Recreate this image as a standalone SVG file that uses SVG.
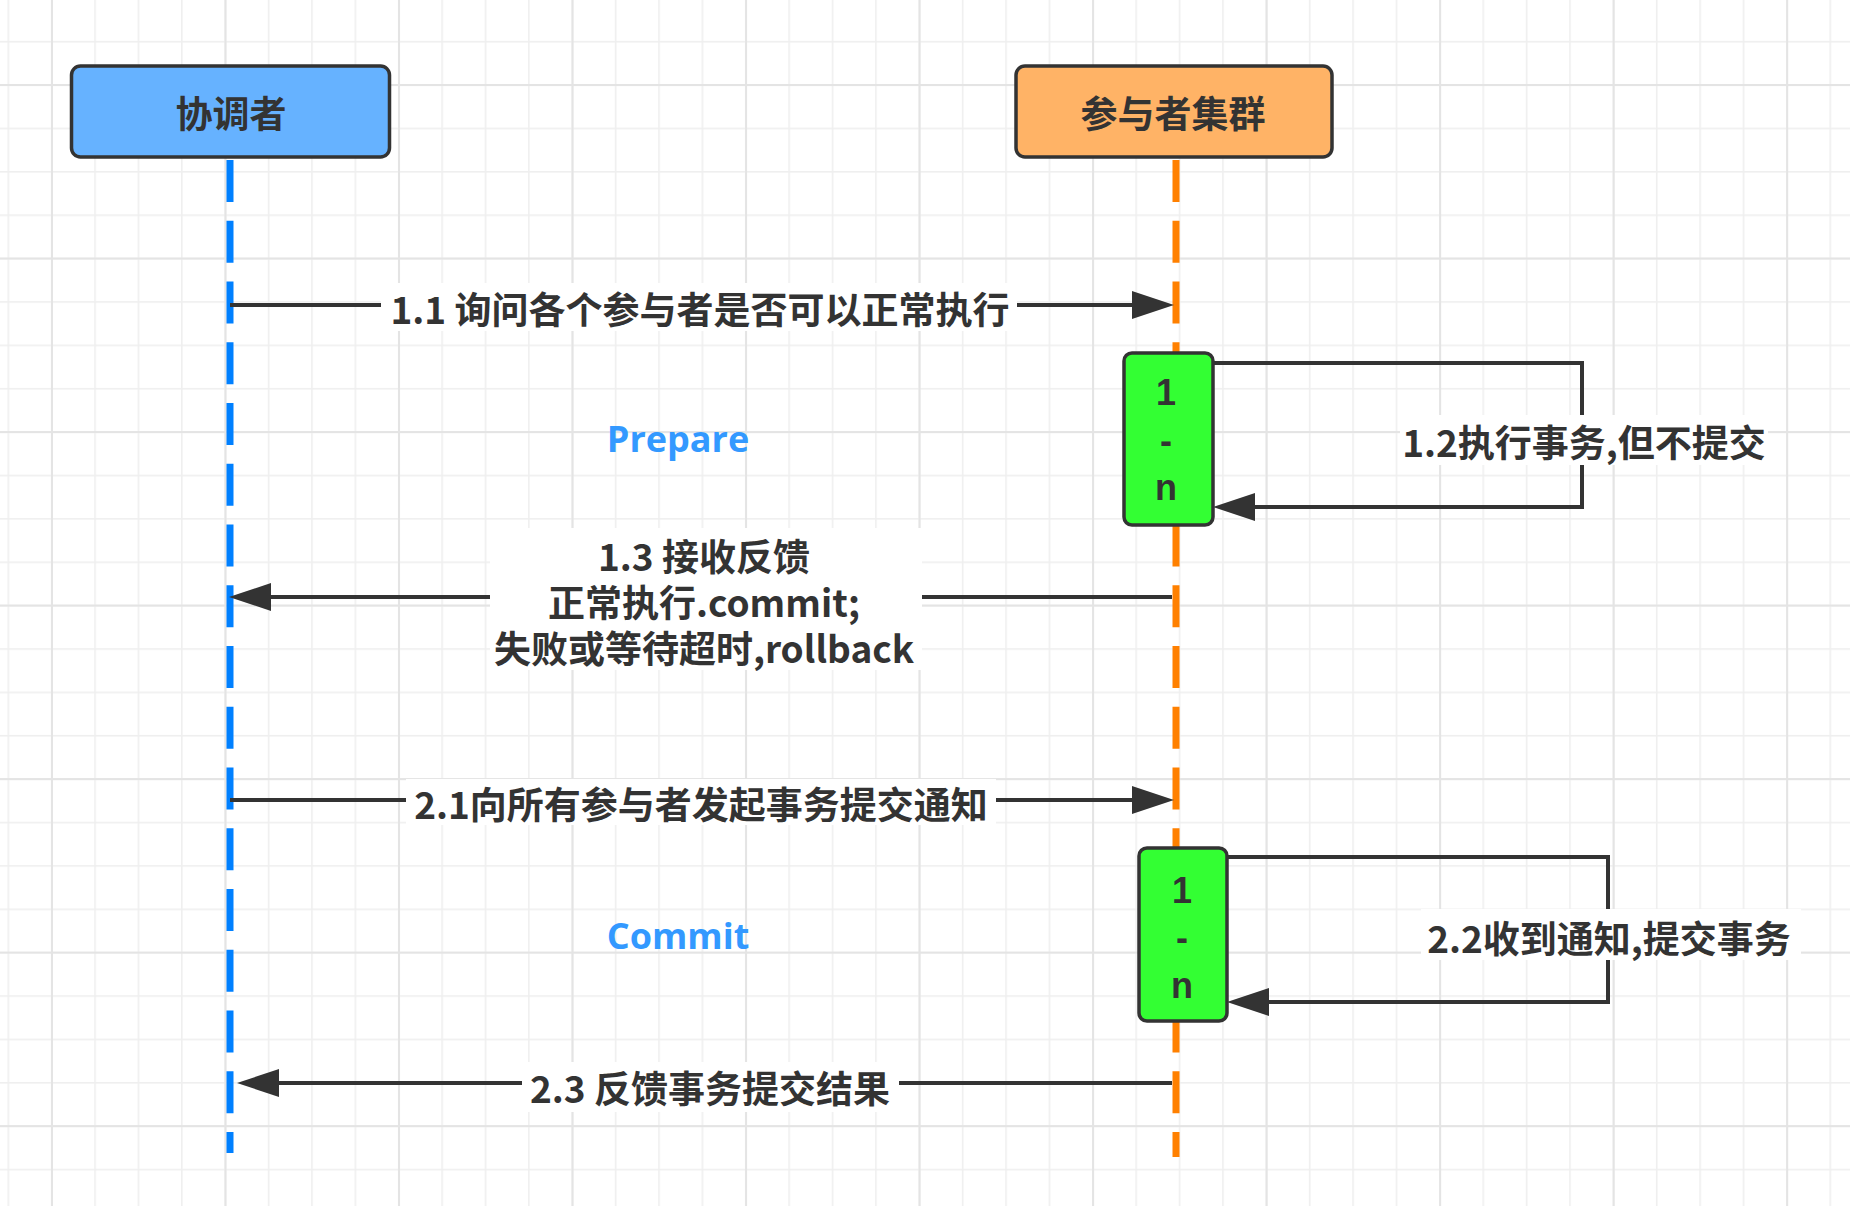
<svg xmlns="http://www.w3.org/2000/svg" width="1862" height="1206" viewBox="0 0 1862 1206">
  <style>
    .box { stroke: #333333; stroke-width: 3.5; }
    .title { font-family: "Noto Sans CJK SC", "Liberation Sans", sans-serif; font-size: 37px; font-weight: bold; fill: #333333; text-anchor: middle; dominant-baseline: central; }
    .lbl { font-family: "Noto Sans CJK SC", "Liberation Sans", sans-serif; font-size: 37px; font-weight: bold; fill: #333333; text-anchor: middle; dominant-baseline: central; }
    .act { font-family: "Liberation Sans", "Noto Sans", sans-serif; font-size: 36px; font-weight: bold; fill: #333333; text-anchor: middle; dominant-baseline: central; }
    .phase { font-family: "Open Sans", "Noto Sans", sans-serif; font-size: 36px; font-weight: bold; fill: #3399FF; text-anchor: middle; dominant-baseline: central; }
    .msg { fill: none; stroke: #333333; stroke-width: 4; marker-end: url(#arrow); }
    .lifeline { fill: none; stroke-width: 7; stroke-dasharray: 42 18.75; }
    .lblbg { fill: #ffffff; }
  </style>
  <defs>
    <pattern id="gridMinor" patternUnits="userSpaceOnUse" x="7.5" y="-2.5" width="43.38" height="43.38">
      <rect x="0" y="0" width="1.6" height="43.38" fill="#efefef"/>
      <rect x="0" y="0" width="43.38" height="1.6" fill="#efefef"/>
    </pattern>
    <pattern id="gridMajor" patternUnits="userSpaceOnUse" x="51" y="84" width="173.52" height="173.52">
      <rect x="0" y="0" width="2" height="173.52" fill="#e4e4e4"/>
      <rect x="0" y="0" width="173.52" height="2" fill="#e4e4e4"/>
    </pattern>
    <marker id="arrow" markerUnits="userSpaceOnUse" markerWidth="42" markerHeight="28" viewBox="0 0 42 28" refX="32" refY="14" orient="auto">
      <path d="M0,0 L42,14 L0,28 Z" fill="#333333"/>
    </marker>
  </defs>

  <rect x="0" y="0" width="1862" height="1206" fill="#ffffff"/>
  <rect x="0" y="0" width="1850" height="1206" fill="url(#gridMinor)"/>
  <rect x="0" y="0" width="1850" height="1206" fill="url(#gridMajor)"/>

  <g id="lifelines">
    <path class="lifeline" d="M230,160 V1153" stroke="#0080FF"/>
    <path class="lifeline" d="M1176,160 V1157" stroke="#FF8000"/>
  </g>

  <g id="coordinator">
    <rect class="box" x="71.5" y="66" width="318" height="91" rx="9" fill="#66B2FF"/>
    <text class="title" x="231" y="112">协调者</text>
  </g>

  <g id="participants">
    <rect class="box" x="1016" y="66" width="316" height="91" rx="9" fill="#FFB366"/>
    <text class="title" x="1173" y="112">参与者集群</text>
  </g>

  <g id="activation1">
    <rect class="box" x="1124" y="353" width="89" height="172" rx="8" fill="#33FF33"/>
    <text class="act" x="1166" y="392">1</text>
    <text class="act" x="1166" y="440">-</text>
    <text class="act" x="1166" y="487">n</text>
  </g>

  <g id="activation2">
    <rect class="box" x="1139" y="848" width="88" height="173" rx="8" fill="#33FF33"/>
    <text class="act" x="1182" y="890">1</text>
    <text class="act" x="1182" y="937">-</text>
    <text class="act" x="1182" y="985">n</text>
  </g>

  <g id="phase-prepare">
    <text class="phase" x="678" y="438">Prepare</text>
  </g>
  <g id="phase-commit">
    <text class="phase" x="678" y="935">Commit</text>
  </g>

  <g id="connectors">
    <path class="msg" d="M230,305 H1164"/>
    <path class="msg" d="M1213,363 H1582 V507 H1223"/>
    <path class="msg" d="M1172,597 H239"/>
    <path class="msg" d="M230,800 H1164"/>
    <path class="msg" d="M1227,857 H1608 V1002 H1237"/>
    <path class="msg" d="M1172,1083 H247"/>

    <rect class="lblbg" x="381" y="283" width="636" height="48"/>
    <text class="lbl" x="700" y="308">1.1 询问各个参与者是否可以正常执行</text>

    <rect class="lblbg" x="1400" y="415" width="368" height="50"/>
    <text class="lbl" x="1584" y="441">1.2执行事务,但不提交</text>

    <rect class="lblbg" x="490" y="528" width="432" height="142"/>
    <text class="lbl" x="704" y="555">1.3 接收反馈</text>
    <text class="lbl" x="704" y="601">正常执行.commit;</text>
    <text class="lbl" x="704" y="647">失败或等待超时,rollback</text>

    <rect class="lblbg" x="406" y="779" width="590" height="46"/>
    <text class="lbl" x="701" y="803">2.1向所有参与者发起事务提交通知</text>

    <rect class="lblbg" x="1421" y="909" width="380" height="51"/>
    <text class="lbl" x="1609" y="937">2.2收到通知,提交事务</text>

    <rect class="lblbg" x="522" y="1062" width="377" height="50"/>
    <text class="lbl" x="710" y="1087">2.3 反馈事务提交结果</text>
  </g>
</svg>
